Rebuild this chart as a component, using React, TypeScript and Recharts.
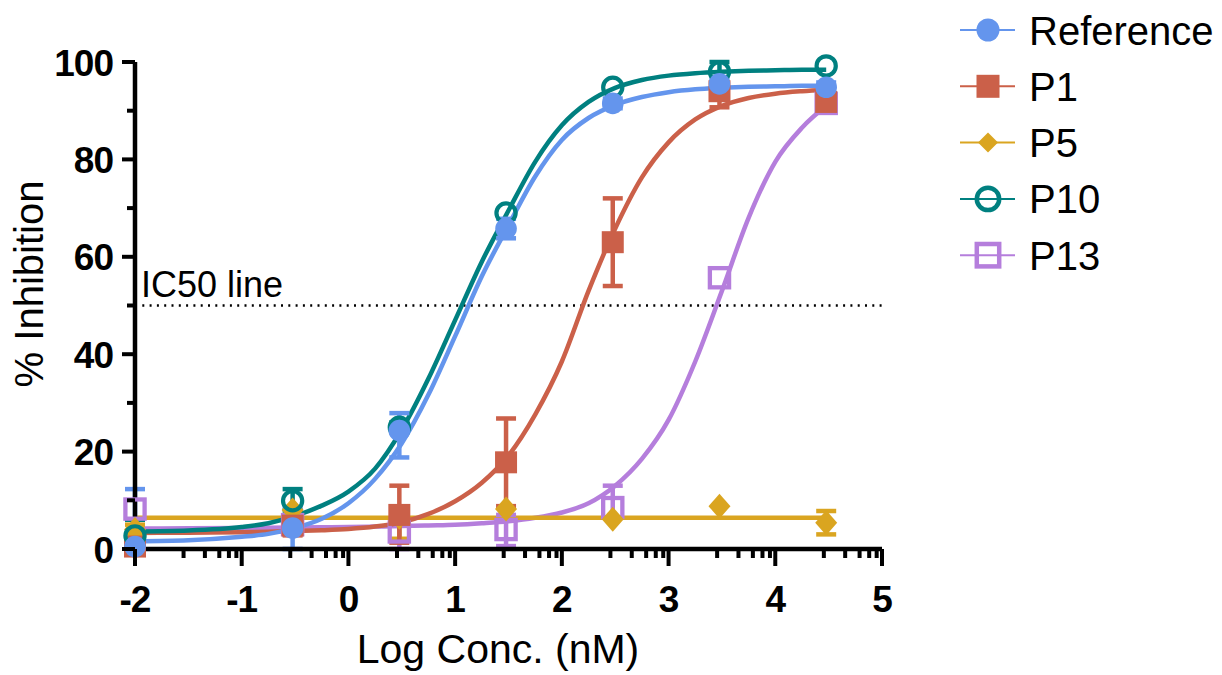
import React from 'react';
import { ComposedChart, Line, Scatter, XAxis, YAxis, ErrorBar, ReferenceLine } from 'recharts';

const FONT = '"Liberation Sans", Arial, Helvetica, sans-serif';

// measured log10 concentrations (nM)
const logConc = [-2, -0.523, 0.477, 1.477, 2.477, 3.477, 4.477];

// means and [lower, upper] errors (0 = no bar)
const refMean = [0.5, 4.3, 24.3, 65.8, 91.5, 95.5, 94.8];
const refErr: any[] = [[0.5, 11.8], [4.3, 4.3], [5.5, 3.6], [2, 2], [1, 1], [1.2, 1.2], [1, 1]];
const p1Mean = [0.5, 4.8, 7, 17.8, 63, 94, 91.8];
const p1Err: any[] = [0, [2, 2], [5.7, 6], [9, 9], [9, 9], [3.3, 1], [1.5, 1.5]];
const p5Mean = [4, 8, 6.5, 8.2, 6.1, 8.8, 5.4];
const p5Err: any[] = [[1, 1], 0, [4.4, 2], 0, 0, 0, [2.4, 2.4]];
const p10Mean = [2.7, 9.9, 25, 69, 94.8, 98, 99.2];
const p10Err: any[] = [[2.7, 3.3], [2, 2.4], [1, 1], 0, 0, [3.4, 2], 0];
const p13Mean = [8.2, 5, 3.5, 4, 8.5, 55.7, 91.5];
const p13Err: any[] = [0, 0, [3.5, 2], [3.4, 3], [2, 4.5], 0, 0];

// fitted curves
const curveX = [-2, -1.5, -1, -0.75, -0.5, -0.25, 0, 0.25, 0.5, 0.75, 1, 1.25, 1.5, 1.75, 2, 2.25, 2.5, 2.75, 3, 3.25, 3.5, 3.75, 4, 4.25, 4.477];
const refCurve = [1.6, 1.8, 2.5, 3.1, 4.3, 6.2, 9.4, 14.4, 21.7, 31.7, 43.7, 56, 66.5, 76.5, 84, 88.5, 91.2, 92.8, 93.8, 94.4, 94.7, 94.9, 95.0, 95.1, 95.1];
const p1Curve = [3.3, 3.35, 3.45, 3.55, 3.7, 3.85, 4.1, 4.6, 5.5, 7.2, 9.8, 13.6, 19.2, 27.6, 38.5, 53, 65.8, 76.3, 83.5, 88.2, 91, 92.6, 93.5, 94, 94.3];
const p10Curve = [3.6, 3.8, 4.5, 5.3, 6.8, 8.9, 11.8, 16.5, 24.5, 35, 47, 59, 69.5, 79.5, 87, 91.8, 94.7, 96.3, 97.2, 97.7, 98.0, 98.2, 98.3, 98.4, 98.4];
const p13Curve = [4.2, 4.25, 4.3, 4.35, 4.4, 4.45, 4.5, 4.6, 4.7, 4.85, 5.0, 5.3, 5.7, 6.4, 7.5, 9.4, 13, 18.5, 26.5, 38.5, 53, 68, 79.5, 86.5, 91];
const p5CurveX = [-2, 4.477];
const p5Curve = [6.4, 6.4];

const xMajorTicks = [-2, -1, 0, 1, 2, 3, 4, 5];
const xMinorFractions = [0.455, 0.655, 0.79, 0.88, 0.95];
const yMajorTicks = [0, 20, 40, 60, 80, 100];
const yMinorTicks = [10, 30, 50, 70, 90];

const xTicks: number[] = [];
xMajorTicks.forEach((t) => {
  xTicks.push(t);
  if (t < 5) xMinorFractions.forEach((f) => xTicks.push(t + f));
});
const yTicks = [...yMajorTicks, ...yMinorTicks].sort((a, b) => a - b);

type Kind = 'circle' | 'square' | 'diamond' | 'openCircle' | 'openSquare';

const series = [
  { name: 'Reference', color: '#6495ED', kind: 'circle' as Kind, means: refMean, errs: refErr, cx: curveX, cy: refCurve },
  { name: 'P1', color: '#CB6049', kind: 'square' as Kind, means: p1Mean, errs: p1Err, cx: curveX, cy: p1Curve },
  { name: 'P5', color: '#DAA520', kind: 'diamond' as Kind, means: p5Mean, errs: p5Err, cx: p5CurveX, cy: p5Curve },
  { name: 'P10', color: '#008080', kind: 'openCircle' as Kind, means: p10Mean, errs: p10Err, cx: curveX, cy: p10Curve },
  { name: 'P13', color: '#B57EDC', kind: 'openSquare' as Kind, means: p13Mean, errs: p13Err, cx: curveX, cy: p13Curve },
];

// drawing order (bottom to top)
const drawOrder = ['P13', 'P5', 'P1', 'P10', 'Reference'];

function Marker({ kind, color, cx, cy, legend }: { kind: Kind; color: string; cx: number; cy: number; legend?: boolean }) {
  if (cx == null || cy == null) return null;
  switch (kind) {
    case 'circle': {
      const r = legend ? 11.5 : 10.8;
      return <circle cx={cx} cy={cy} r={r} fill={color} />;
    }
    case 'square': {
      const h = legend ? 11.5 : 11;
      return <rect x={cx - h} y={cy - h} width={2 * h} height={2 * h} fill={color} />;
    }
    case 'diamond': {
      const w = legend ? 10 : 11;
      const hh = legend ? 10 : 12.5;
      return <polygon points={`${cx},${cy - hh} ${cx + w},${cy} ${cx},${cy + hh} ${cx - w},${cy}`} fill={color} />;
    }
    case 'openCircle': {
      const r = legend ? 11.2 : 9.6;
      return <circle cx={cx} cy={cy} r={r} fill="none" stroke={color} strokeWidth={legend ? 4.5 : 4.2} />;
    }
    case 'openSquare': {
      const h = legend ? 11.2 : 9.6;
      return <rect x={cx - h} y={cy - h} width={2 * h} height={2 * h} fill="none" stroke={color} strokeWidth={legend ? 4.5 : 4.3} />;
    }
  }
  return null;
}

const XTick = (props: any) => {
  const { x, y, payload } = props;
  const v = payload.value;
  const major = Math.abs(v - Math.round(v)) < 1e-6;
  return (
    <g>
      <line x1={x} x2={x} y1={y} y2={y + (major ? 17 : 9)} stroke="#000" strokeWidth={4} />
      {major && (
        <text x={x} y={y + 63} textAnchor="middle" fontFamily={FONT} fontWeight="bold" fontSize={37} letterSpacing={-1} fill="#000">
          {String(Math.round(v))}
        </text>
      )}
    </g>
  );
};

const YTick = (props: any) => {
  const { x, y, payload } = props;
  const v = payload.value;
  const major = yMajorTicks.includes(v);
  return (
    <g>
      <line x1={x - (major ? 13 : 8)} x2={x} y1={y} y2={y} stroke="#000" strokeWidth={4} />
      {major && (
        <text x={x - 22} y={y + 13.5} textAnchor="end" fontFamily={FONT} fontWeight="bold" fontSize={37} letterSpacing={-1} fill="#000">
          {String(v)}
        </text>
      )}
    </g>
  );
};

export default function App() {
  const ordered = drawOrder.map((n) => series.find((s) => s.name === n)!);
  return (
    <div style={{ position: 'absolute', left: 0, top: 0, width: 1222, height: 675, background: '#fff' }}>
      <ComposedChart width={1222} height={675} margin={{ top: 62, right: 340, bottom: 86, left: 35 }}>
        <XAxis
          type="number"
          dataKey="x"
          domain={[-2, 5]}
          ticks={xTicks}
          interval={0}
          tickSize={0}
          tickMargin={0}
          tickLine={false}
          tick={<XTick />}
          axisLine={{ stroke: '#000', strokeWidth: 4.5 }}
          height={40}
        />
        <YAxis
          type="number"
          dataKey="y"
          domain={[0, 100]}
          ticks={yTicks}
          interval={0}
          tickSize={0}
          tickMargin={0}
          tickLine={false}
          tick={<YTick />}
          axisLine={{ stroke: '#000', strokeWidth: 4.5 }}
          width={100}
        />
        <ReferenceLine y={50} stroke="#000" strokeWidth={2.4} strokeDasharray="2 5.3" ifOverflow="extendDomain" />
        {ordered.map((s) => (
          <Line
            key={'line-' + s.name}
            data={s.cx.map((x, i) => ({ x, y: s.cy[i] }))}
            dataKey="y"
            type="monotone"
            stroke={s.color}
            strokeWidth={4.5}
            dot={false}
            activeDot={false}
            isAnimationActive={false}
          />
        ))}
        {ordered.map((s) => (
          <Scatter
            key={'pts-' + s.name}
            data={logConc.map((x, i) => ({ x, y: s.means[i], err: s.errs[i] }))}
            isAnimationActive={false}
            shape={(p: any) => <Marker kind={s.kind} color={s.color} cx={p.cx} cy={p.cy} />}
          >
            <ErrorBar dataKey="err" direction="y" width={10} stroke={s.color} strokeWidth={4.5} />
          </Scatter>
        ))}
      </ComposedChart>
      <svg width={1222} height={675} style={{ position: 'absolute', left: 0, top: 0, pointerEvents: 'none' }}>
        <text x={141} y={297} fontFamily={FONT} fontSize={36} fill="#000">IC50 line</text>
        <text x={498} y={663} textAnchor="middle" fontFamily={FONT} fontSize={41} fill="#000">Log Conc. (nM)</text>
        <text x={43} y={284} transform="rotate(-90 43 284)" textAnchor="middle" fontFamily={FONT} fontSize={40} fill="#000">% Inhibition</text>
        {series.map((s, i) => {
          const cy = 30 + i * 56.3;
          return (
            <g key={'leg-' + s.name}>
              <line x1={960} x2={1015} y1={cy} y2={cy} stroke={s.color} strokeWidth={2} />
              <Marker kind={s.kind} color={s.color} cx={988} cy={cy} legend />
              <text x={1029} y={cy + 14.5} fontFamily={FONT} fontSize={40} fill="#000">{s.name}</text>
            </g>
          );
        })}
      </svg>
    </div>
  );
}
